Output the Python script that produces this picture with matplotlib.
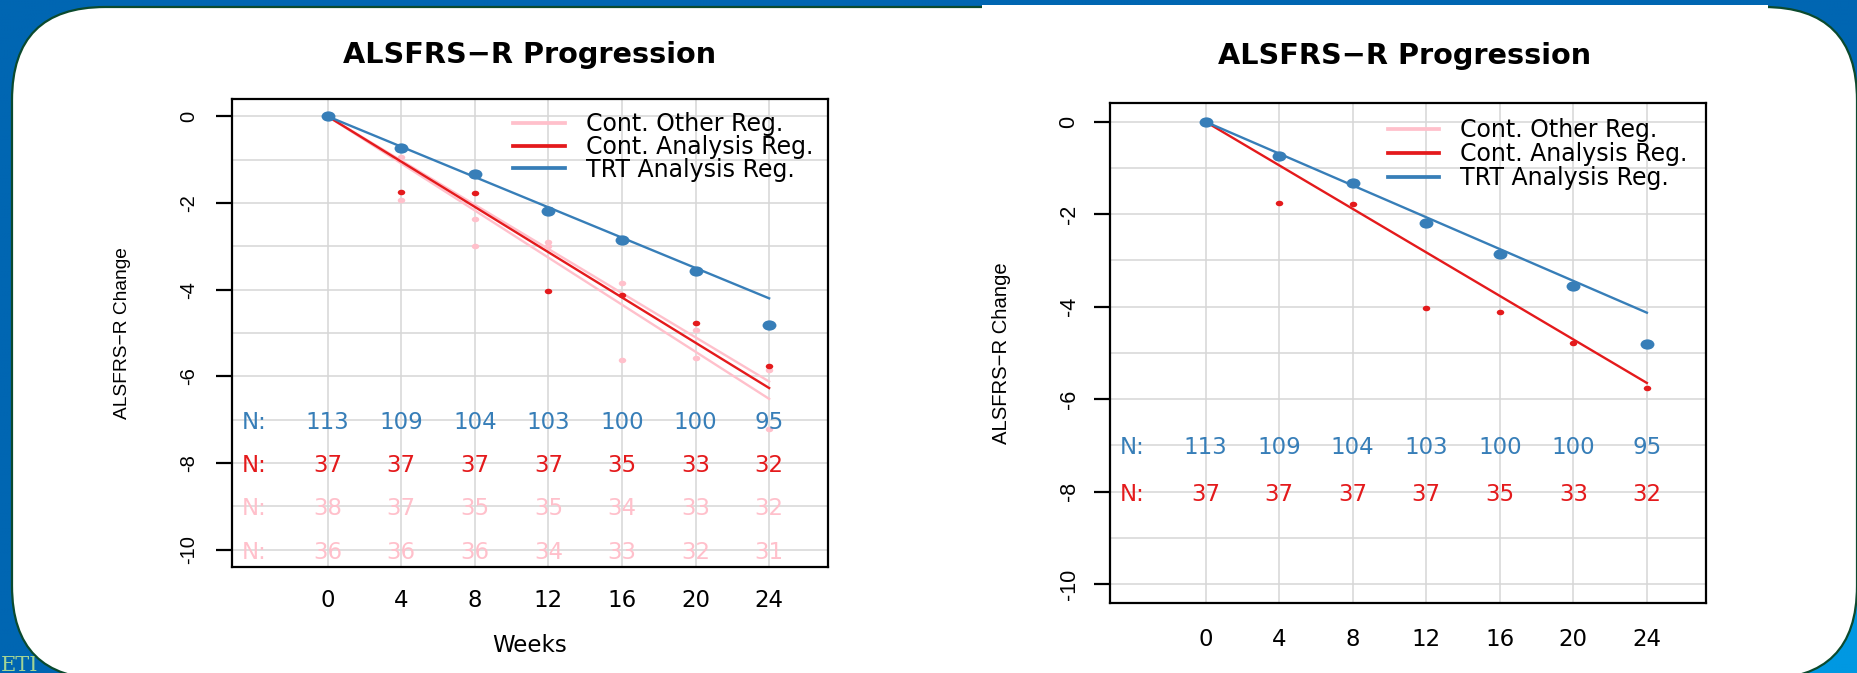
import numpy as np
import matplotlib
matplotlib.use("Agg")
import matplotlib.pyplot as plt
from matplotlib.patches import FancyBboxPatch, Rectangle
from matplotlib.path import Path
from matplotlib.lines import Line2D

# ---------------- data ----------------
weeks = [0, 4, 8, 12, 16, 20, 24]
trt_mean = [0.0, -0.73, -1.33, -2.19, -2.86, -3.56, -4.81]
cont_mean = [0.0, -1.75, -1.78, -4.03, -4.12, -4.78, -5.77]
other1_mean = [0.0, -0.94, -2.37, -2.89, -3.84, -4.93, -5.85]
other2_mean = [0.0, -1.92, -2.99, -2.99, -5.62, -5.58, -7.22]

fit_weeks = [0, 24]
trt_fit_left = [0.0, -4.20]
cont_fit_left = [0.0, -6.27]
other1_fit_left = [0.0, -6.12]
other2_fit_left = [0.0, -6.52]
trt_fit_right = [0.0, -4.13]
cont_fit_right = [0.0, -5.65]

trt_n = [113, 109, 104, 103, 100, 100, 95]
cont_n = [37, 37, 37, 37, 35, 33, 32]
other1_n = [38, 37, 35, 35, 34, 33, 32]
other2_n = [36, 36, 36, 34, 33, 32, 31]

legend_labels = ["Cont. Other Reg.", "Cont. Analysis Reg.", "TRT Analysis Reg."]
title_text = "ALSFRS\u2212R Progression"
ylabel_text = "ALSFRS\u2212R Change"
xlabel_text = "Weeks"
y_ticks = [0, -2, -4, -6, -8, -10]

# ---------------- style ----------------
BLUE = "#377EB8"
RED = "#E41A1C"
PINK = "#FFC0CB"
GRID = "#d6d6d6"
HFONT = "DejaVu Sans"
VFONT = "Liberation Sans"
FS = 16.5
LEG_FS = 17
TITLE_FS = 20.7

W, H = 1858, 673
fig = plt.figure(figsize=(W / 100, H / 100), dpi=100)

# ---------------- slide background ----------------
bg = fig.add_axes([0, 0, 1, 1], zorder=-10)
bg.set_xlim(0, W)
bg.set_ylim(H, 0)
bg.set_axis_off()
yy, xx = np.mgrid[0:H:3, 0:W:3]
t = np.clip((xx - 1560) / 298.0, 0, 1) * np.clip((yy - 280) / 393.0, 0, 1)
t = np.clip(t * 1.6, 0, 1)
dark = np.array([0, 102, 178]) / 255.0
light = np.array([0, 152, 226]) / 255.0
img = dark[None, None, :] * (1 - t[..., None]) + light[None, None, :] * t[..., None]
bg.imshow(img, extent=(0, W, H, 0), aspect="auto", interpolation="bilinear", zorder=0)
bg.text(1, 671, "ETI", family="DejaVu Serif", fontsize=15, color="#a3d494",
        ha="left", va="baseline", zorder=1)
bg.add_patch(FancyBboxPatch((12, 7), 1845, 672, boxstyle="round,pad=0,rounding_size=93",
                            fc="white", ec="#0b4a2e", lw=1.6, zorder=2))
bg.add_patch(Rectangle((982, 4.5), 786, 4.5, fc="white", ec="none", zorder=3))

circ = Path.unit_circle()
ELL = Path(circ.vertices * np.array([1.0, 0.74]), circ.codes)


def px_rect(x0, y0, x1, y1):
    return [x0 / W, 1 - y1 / H, (x1 - x0) / W, (y1 - y0) / H]


def setup_axes(ax, vfs, lfs, ytick_pad, xtick_pad, title_pad, title_x, ylabel_x):
    ax.set_facecolor("white")
    ax.set_xlim(-5.2, 27.2)
    ax.set_ylim(-10.4, 0.4)
    ax.set_xticks(weeks)
    ax.set_xticklabels([str(w) for w in weeks])
    ax.set_yticks(y_ticks)
    ax.set_yticklabels([str(v) for v in y_ticks])
    ax.set_yticks(list(range(-10, 1)), minor=True)
    ax.set_axisbelow(True)
    ax.grid(which="both", axis="y", color=GRID, lw=1.1)
    ax.grid(which="major", axis="x", color=GRID, lw=1.1)
    for s in ax.spines.values():
        s.set_linewidth(1.6)
        s.set_color("black")
    ax.tick_params(axis="x", which="both", length=0, pad=xtick_pad, labelsize=FS)
    ax.tick_params(axis="y", which="major", length=11.5, width=1.6, direction="out",
                   pad=ytick_pad, labelsize=vfs, labelrotation=90)
    ax.tick_params(axis="y", which="minor", length=0)
    for lab in ax.get_xticklabels():
        lab.set_fontfamily(HFONT)
        lab.set_va("baseline")
    for lab in ax.get_yticklabels():
        lab.set_fontfamily(VFONT)
        lab.set_ha("center")
        lab.set_va("center")
    ax.set_title(title_text, fontfamily=HFONT, fontweight="bold", fontsize=TITLE_FS,
                 pad=title_pad, x=title_x)
    ax.set_ylabel(ylabel_text, fontfamily=VFONT, fontsize=lfs)
    ax.yaxis.set_label_coords(ylabel_x, 0.5)
    ax.yaxis.label.set_va("center")


def n_row(ax, yrow, counts, color):
    ax.text(-4, yrow, "N:", color=color, fontfamily=HFONT, fontsize=FS,
            ha="center", va="center_baseline")
    for w, n in zip(weeks, counts):
        ax.text(w, yrow, str(n), color=color, fontfamily=HFONT, fontsize=FS,
                ha="center", va="center_baseline")


def add_legend(ax, anchor, hl, ls):
    handles = [Line2D([], [], color=PINK, lw=2.7),
               Line2D([], [], color=RED, lw=2.7),
               Line2D([], [], color=BLUE, lw=2.7)]
    ax.legend(handles, legend_labels, loc="upper left", bbox_to_anchor=anchor,
              frameon=False, borderpad=0, borderaxespad=0, handlelength=hl,
              handletextpad=0.9, labelspacing=ls,
              prop={"family": HFONT, "size": LEG_FS})


BIG = 10.0
SMALL = 5.4
LW = 1.7

# ---------------- left panel ----------------
axL = fig.add_axes(px_rect(232, 99, 828, 567))
setup_axes(axL, vfs=14.5, lfs=13.8, ytick_pad=19.5, xtick_pad=28.6, title_pad=25.7,
           title_x=0.5, ylabel_x=(123 - 232) / 596)
axL.set_xlabel(xlabel_text, fontfamily=HFONT, fontsize=FS)
axL.xaxis.set_label_coords(0.5, (567 - 651.7) / 468)
axL.xaxis.label.set_va("baseline")

axL.plot(fit_weeks, other1_fit_left, color=PINK, lw=LW, zorder=2)
axL.plot(fit_weeks, other2_fit_left, color=PINK, lw=LW, zorder=2)
axL.plot(weeks, other1_mean, ls="none", marker=ELL, ms=SMALL, color=PINK, mec="none", zorder=2.2)
axL.plot(weeks, other2_mean, ls="none", marker=ELL, ms=SMALL, color=PINK, mec="none", zorder=2.2)
axL.plot(fit_weeks, cont_fit_left, color=RED, lw=LW, zorder=2.4)
axL.plot(weeks, cont_mean, ls="none", marker=ELL, ms=SMALL, color=RED, mec="none", zorder=2.5)
axL.plot(fit_weeks, trt_fit_left, color=BLUE, lw=LW, zorder=2.6)
axL.plot(weeks, trt_mean, ls="none", marker=ELL, ms=BIG, color=BLUE, mec="none", zorder=2.8)

n_row(axL, -7, trt_n, BLUE)
n_row(axL, -8, cont_n, RED)
n_row(axL, -9, other1_n, PINK)
n_row(axL, -10, other2_n, PINK)
add_legend(axL, ((512.7 - 232) / 596, (567 - 112) / 468), 2.2, -0.05)

# ---------------- right panel ----------------
axR = fig.add_axes(px_rect(1110, 103.3, 1705.7, 602.5))
setup_axes(axR, vfs=15.5, lfs=14.6, ytick_pad=18.0, xtick_pad=31.3, title_pad=28.1,
           title_x=(1404.5 - 1110) / 595.7, ylabel_x=(1002 - 1110) / 595.7)

axR.plot(fit_weeks, cont_fit_right, color=RED, lw=LW, zorder=2.4)
axR.plot(weeks, cont_mean, ls="none", marker=ELL, ms=SMALL, color=RED, mec="none", zorder=2.5)
axR.plot(fit_weeks, trt_fit_right, color=BLUE, lw=LW, zorder=2.6)
axR.plot(weeks, trt_mean, ls="none", marker=ELL, ms=BIG, color=BLUE, mec="none", zorder=2.8)

n_row(axR, -7, trt_n, BLUE)
n_row(axR, -8, cont_n, RED)
add_legend(axR, ((1388.3 - 1110) / 595.7, (602.5 - 118) / 499.2), 2.15, 0.0)

fig.savefig("out.png", dpi=100)
